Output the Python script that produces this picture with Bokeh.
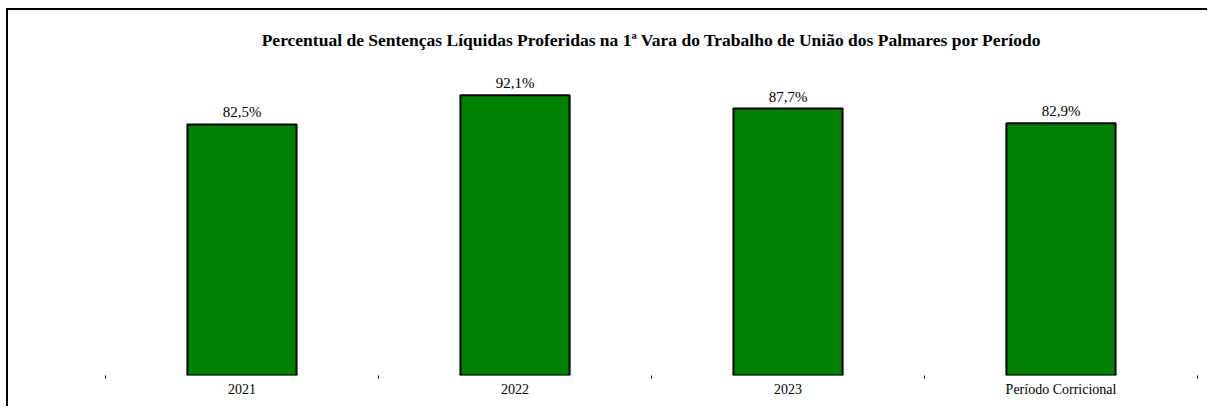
from bokeh.plotting import figure
from bokeh.models import ColumnDataSource, FixedTicker, Range1d
from bokeh.embed import file_html
from bokeh.resources import INLINE
from bokeh.core.properties import value

categories = ["2021", "2022", "2023", "Período Corricional"]
percentuais = [82.5, 92.1, 87.7, 82.9]
rotulos = ["82,5%", "92,1%", "87,7%", "82,9%"]

positions = [i + 0.5 for i in range(len(categories))]
boundaries = [float(i) for i in range(len(categories) + 1)]

source = ColumnDataSource(dict(x=positions, y=percentuais, label=rotulos))

FONT = "Liberation Serif"

p = figure(
    width=1201, height=398,
    x_range=Range1d(0, len(categories)),
    y_range=Range1d(0, 103.5),
    output_backend="svg", toolbar_location=None,
    min_border_left=97, min_border_right=12,
    min_border_top=50, min_border_bottom=33,
    title="Percentual de Sentenças Líquidas Proferidas na 1ª Vara do Trabalho de União dos Palmares por Período",
    styles={"border-left": "2px solid black", "border-top": "2px solid black",
            "margin-left": "6px", "margin-top": "8px"},
)
p.title.align = "center"
p.title.text_font = FONT
p.title.text_font_size = "17.5px"
p.title.text_font_style = "bold"
p.title.text_color = "black"
p.title.standoff = 21

p.vbar(x="x", top="y", width=0.4, bottom=0, source=source,
       fill_color="#008000", line_color="black", line_width=2)

p.text(x="x", y="y", text="label", source=source,
       text_align="center", text_baseline="bottom", y_offset=-4,
       text_font=value(FONT), text_font_size="15px", text_color="black")

p.xaxis.ticker = FixedTicker(ticks=positions, minor_ticks=boundaries)
p.xaxis.major_label_overrides = {pos: c for pos, c in zip(positions, categories)}
p.xaxis.major_tick_line_color = None
p.xaxis.minor_tick_in = 0
p.xaxis.minor_tick_out = 3
p.xaxis.minor_tick_line_color = "black"
p.xaxis.axis_line_color = None
p.xaxis.major_label_standoff = 0
p.xaxis.major_label_text_font = FONT
p.xaxis.major_label_text_font_size = "14px"
p.xaxis.major_label_text_color = "black"
p.yaxis.visible = False

p.xgrid.visible = False
p.ygrid.visible = False
p.outline_line_color = None
p.background_fill_color = "white"
p.border_fill_color = "white"

open("out.html", "w").write(file_html(p, INLINE))
